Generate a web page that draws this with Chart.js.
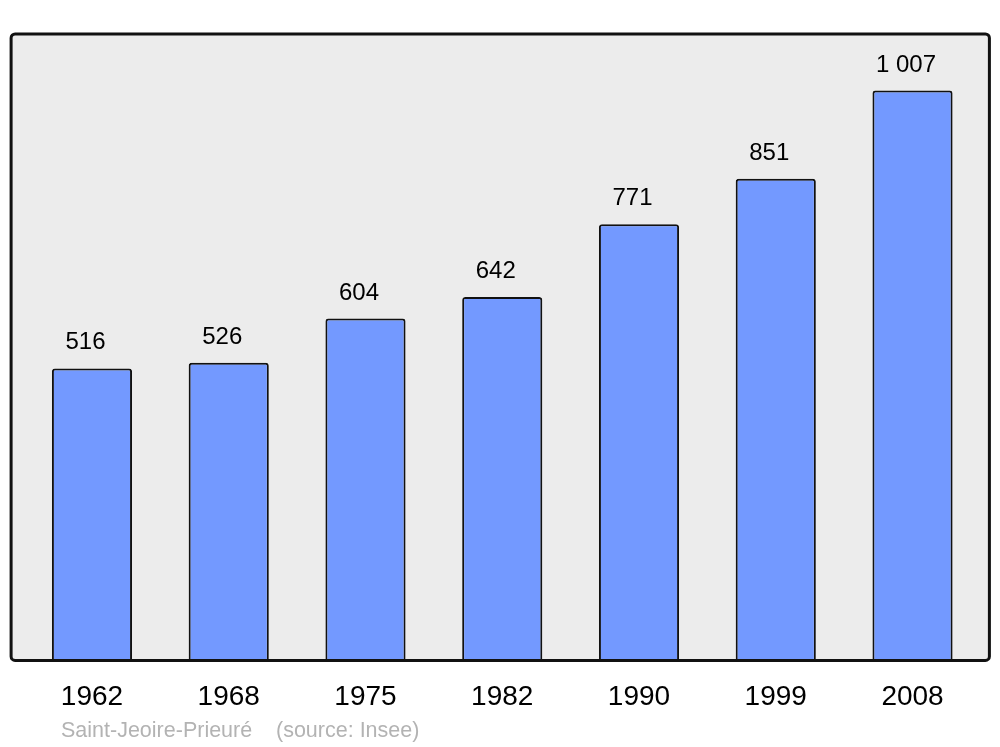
<!DOCTYPE html>
<html>
<head>
<meta charset="utf-8">
<script src="https://cdn.jsdelivr.net/npm/chart.js@4/dist/chart.umd.min.js"></script>
<style>
html,body{margin:0;padding:0;background:#fff;}
#wrap{width:1000px;height:747px;position:relative;}
</style>
</head>
<body>
<div id="wrap"><canvas id="c" width="1000" height="747"></canvas></div>
<script>
const years = ["1962","1968","1975","1982","1990","1999","2008"];
const population = [516, 526, 604, 642, 771, 851, 1007];
const valueLabels = ["516","526","604","642","771","851","1 007"];
const sourceName = "Saint-Jeoire-Prieuré";
const sourceNote = "(source: Insee)";

const FONT = "'Liberation Sans', Arial, sans-serif";

const framePlugin = {
  id: 'frame',
  beforeDatasetsDraw(chart) {
    const ctx = chart.ctx, a = chart.chartArea;
    const x0 = a.left - 12.5, x1 = a.right + 8.5, y0 = a.top, y1 = a.bottom;
    ctx.save();
    ctx.beginPath();
    ctx.roundRect(x0, y0, x1 - x0, y1 - y0, 4);
    ctx.fillStyle = '#ececec';
    ctx.fill();
    ctx.restore();
  },
  afterDatasetsDraw(chart) {
    const ctx = chart.ctx, a = chart.chartArea;
    const x0 = a.left - 12.5, x1 = a.right + 8.5, y0 = a.top, y1 = a.bottom;
    const meta = chart.getDatasetMeta(0);
    ctx.save();
    ctx.font = '24px ' + FONT;
    ctx.fillStyle = '#000';
    ctx.textAlign = 'center';
    ctx.textBaseline = 'alphabetic';
    meta.data.forEach((bar, i) => {
      ctx.fillText(valueLabels[i], bar.x - 6.5, bar.y - 19);
    });
    ctx.beginPath();
    ctx.roundRect(x0, y0, x1 - x0, y1 - y0, 4);
    ctx.lineWidth = 3;
    ctx.strokeStyle = '#111';
    ctx.stroke();
    ctx.font = '21.5px ' + FONT;
    ctx.fillStyle = '#b3b3b3';
    ctx.textAlign = 'left';
    ctx.fillText(sourceName, 61, 737);
    ctx.fillText(sourceNote, 276, 737);
    ctx.restore();
  }
};

new Chart(document.getElementById('c'), {
  type: 'bar',
  data: {
    labels: years,
    datasets: [{
      data: population,
      backgroundColor: '#7399ff',
      borderColor: '#111',
      borderWidth: 2,
      borderRadius: {topLeft: 3, topRight: 3, bottomLeft: 0, bottomRight: 0},
      borderSkipped: 'bottom',
      barPercentage: 0.586,
      categoryPercentage: 1.0
    }]
  },
  options: {
    responsive: false,
    animation: false,
    devicePixelRatio: 1,
    layout: { padding: { top: 34, left: 23.6, right: 19.1, bottom: 13 } },
    plugins: { legend: { display: false }, tooltip: { enabled: false } },
    scales: {
      x: {
        offset: true,
        grid: { display: false, drawTicks: false },
        border: { display: false },
        ticks: { color: '#000', font: { family: FONT, size: 28 }, padding: 20, maxRotation: 0 }
      },
      y: {
        display: false,
        min: 0,
        max: 1107
      }
    }
  },
  plugins: [framePlugin]
});
</script>
</body>
</html>
